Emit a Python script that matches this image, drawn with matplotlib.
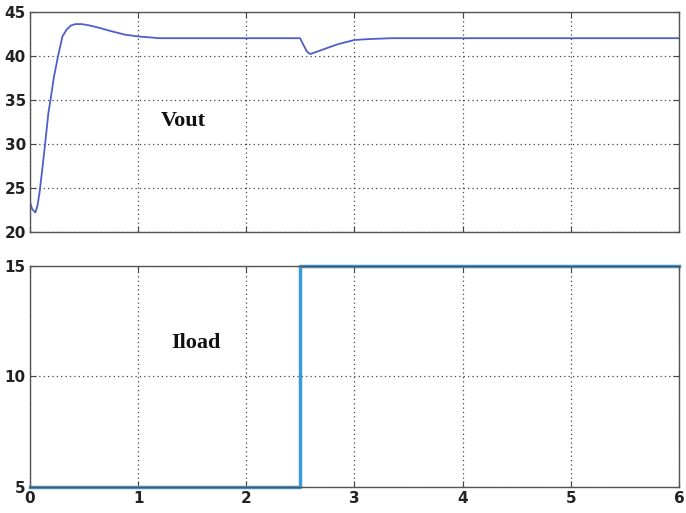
"""Vout / Iload step response"""
import matplotlib.pyplot as plt

# Vout samples
t_vout = [0.0, 0.02, 0.05, 0.07, 0.09, 0.12, 0.14, 0.17, 0.19, 0.22, 0.26, 0.30, 0.34,
          0.38, 0.42, 0.48, 0.55, 0.65, 0.75, 0.88, 1.0, 1.2, 2.0, 2.497,
          2.53, 2.56, 2.59, 2.65, 2.75, 2.85, 3.0, 3.13, 3.34, 4.0, 5.0, 6.0]
v_out = [23.4, 22.6, 22.2, 23.0, 24.6, 27.8, 30.0, 33.5, 35.0, 37.5, 40.0, 42.2, 43.0,
         43.45, 43.6, 43.6, 43.45, 43.15, 42.8, 42.4, 42.2, 42.0, 42.0, 42.0,
         41.2, 40.5, 40.2, 40.45, 40.9, 41.33, 41.8, 41.9, 42.0, 42.0, 42.0, 42.0]

# Load current step
t_load = [0.0, 2.5, 2.5, 6.0]
i_load = [5, 5, 15, 15]

fig = plt.figure(figsize=(6.86, 5.13), dpi=100)
ax1 = fig.add_axes([0.0437, 0.548, 0.946, 0.429])
ax2 = fig.add_axes([0.0437, 0.0507, 0.946, 0.431])

ax1.plot(t_vout, v_out, color='#4f5fcb', linewidth=1.3)
ax1.set_xlim(0, 6)
ax1.set_ylim(20, 45)
ax1.set_yticks([20, 25, 30, 35, 40, 45])
ax1.set_xticks([0, 1, 2, 3, 4, 5, 6])
ax1.set_xticklabels([])
ax1.text(1.21, 32.0, 'Vout', fontsize=16, fontweight='bold',
         family='Liberation Serif', va='baseline', color='#111111')

ax2.plot(t_load, i_load, color='#3d9ad8', linewidth=2.5, clip_on=False)
ax2.set_xlim(0, 6)
ax2.set_ylim(5, 15)
ax2.set_yticks([5, 10, 15])
ax2.set_xticks([0, 1, 2, 3, 4, 5, 6])
ax2.text(1.31, 11.28, 'Iload', fontsize=16, fontweight='bold',
         family='Liberation Serif', va='baseline', color='#111111')

for ax in (ax1, ax2):
    ax.grid(True, color='#444444', linestyle=(0, (1, 2.5)), linewidth=0.9)
    for s in ax.spines.values():
        s.set_color('#555555')
        s.set_linewidth(1.0)
    ax.tick_params(direction='in', length=4, color='#444444', labelsize=11,
                   labelcolor='#222222', pad=3, top=True, right=True)
    for lab in ax.get_yticklabels() + ax.get_xticklabels():
        lab.set_fontweight('bold')

plt.savefig('out.png', dpi=100)
